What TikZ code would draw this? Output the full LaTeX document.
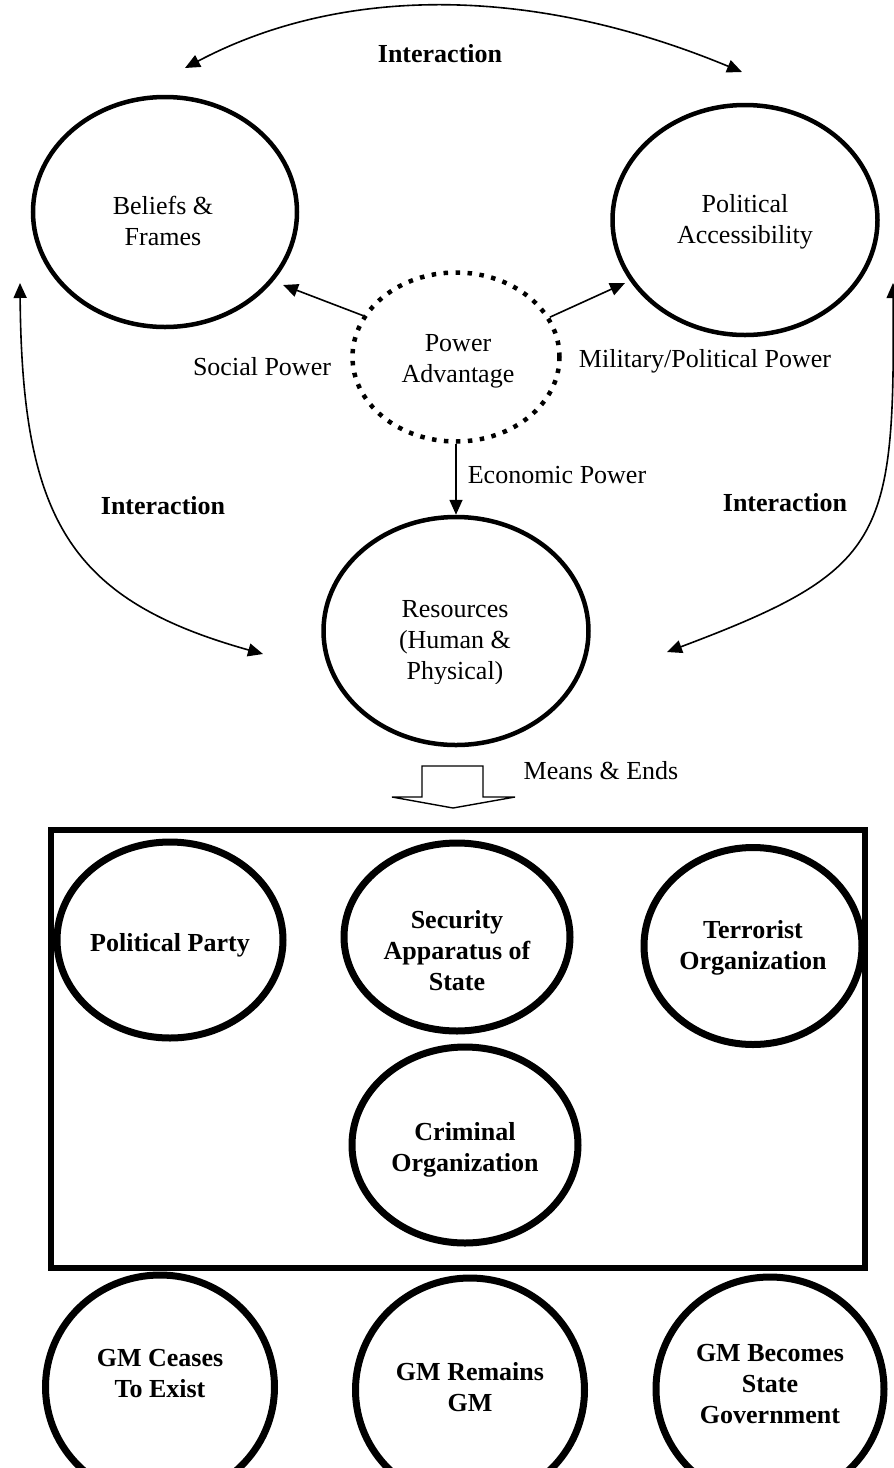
\documentclass[tikz,border=0pt]{standalone}
\usepackage{fontspec}
\setmainfont{Liberation Serif}
\usetikzlibrary{shapes.geometric,arrows.meta}
\tikzset{
  ell/.style={draw, ellipse, line width=4.5pt, inner sep=0pt},
  bell/.style={draw, ellipse, line width=7pt, inner sep=0pt},
  dotell/.style={draw, ellipse, line width=4.5pt, dash pattern=on 4.5pt off 7.5pt, inner sep=0pt},
  txt/.style={align=center, font=\fontsize{26}{31}\selectfont, inner sep=0pt},
  btxt/.style={align=center, font=\bfseries\fontsize{26}{31}\selectfont, inner sep=0pt},
  arr/.style={line width=1.6pt, -{Triangle[length=15pt,width=13pt]}},
  darr/.style={line width=1.6pt, {Triangle[length=15pt,width=13pt]}-{Triangle[length=15pt,width=13pt]}},
}
\begin{document}
\begin{tikzpicture}[x=1pt,y=-1pt]
\useasboundingbox (0,0) rectangle (894,1468);
\fill[white] (0,0) rectangle (894,1468);
\clip (0,0) rectangle (894,1468);

% upper ellipses
\node[ell, minimum width=264pt, minimum height=230pt] (bf) at (165,212) {};
\node[txt] (tbf) at (163,221) {Beliefs \&\\Frames};
\node[ell, minimum width=265pt, minimum height=230pt] (pac) at (745,220) {};
\node[txt] (tpac) at (745,222) {Political\\Accessibility};
\node[dotell, minimum width=207pt, minimum height=169pt] (pa) at (456,357) {};
\node[txt] (tpa) at (458,361) {Power\\Advantage};
\node[ell, minimum width=265pt, minimum height=228pt] (res) at (456,631) {};
\begin{scope}
  \clip (300,560) rectangle (610,683);
  \node[txt] (tres) at (455,643) {Resources\\(Human \&\\Physical)};
\end{scope}

% power arrows
\coordinate (tipbf) at (283,285);
\coordinate (tippac) at (625,283);
\draw[arr] (pa.156) -- (tipbf);
\draw[arr] (pa.23) -- (tippac);
\draw[arr] (pa.south) -- (res.north);
\node[txt] (lsoc) at (262,367) {Social Power};
\node[txt] (lmil) at (705,361) {Military/Political Power};
\node[txt] (leco) at (557,475) {Economic Power};

% interaction arcs
\coordinate (itl) at (185,68);
\coordinate (itr) at (742,72);
\draw[darr] (itl) .. controls (340,-14) and (530,-16) .. (itr);
\node[btxt] (lint1) at (440,54) {Interaction};

\coordinate (ill) at (20,283);
\coordinate (ilr) at (263,654);
\draw[darr] (ill) .. controls (22,520) and (70,600) .. (ilr);
\node[btxt] (lint2) at (163,506) {Interaction};

\coordinate (irt) at (893,283);
\coordinate (irb) at (667,652);
\draw[darr] (irt) .. controls (895,540) and (885,570) .. (irb);
\node[btxt] (lint3) at (785,503) {Interaction};

% hollow arrow
\draw[line width=1.4pt, line join=miter] (422,766) -- (483,766) -- (483,797) -- (515,797) -- (453,808) -- (392,797) -- (422,797) -- cycle;
\node[txt] (lme) at (601,771) {Means \& Ends};

% box with organizations
\node[draw, line width=6pt, inner sep=0pt, minimum width=814pt, minimum height=438pt] (box) at (458,1049) {};
\node[bell, minimum width=226pt, minimum height=196pt] (pp) at (170,940) {};
\node[btxt] (tpp) at (170,945) {Political Party};
\node[bell, minimum width=226pt, minimum height=188pt] (sec) at (457,937) {};
\node[btxt] (tsec) at (457,951) {Security\\Apparatus of\\State};
\node[bell, minimum width=218pt, minimum height=197pt] (ter) at (753,946) {};
\node[btxt] (tter) at (753,948) {Terrorist\\Organization};
\node[bell, minimum width=226pt, minimum height=196pt] (cri) at (465,1145) {};
\node[btxt] (tcri) at (465,1150) {Criminal\\Organization};

% outcomes
\node[bell, minimum width=229pt, minimum height=224pt] (gm1) at (160,1387) {};
\node[btxt] (tgm1) at (160,1374) {GM Ceases\\To Exist};
\node[bell, minimum width=229pt, minimum height=224pt] (gm2) at (470,1390) {};
\node[btxt] (tgm2) at (470,1387) {GM Remains\\GM};
\node[bell, minimum width=228pt, minimum height=224pt] (gm3) at (770,1389) {};
\node[btxt] (tgm3) at (770,1384) {GM Becomes\\State\\Government};
\end{tikzpicture}
\end{document}
